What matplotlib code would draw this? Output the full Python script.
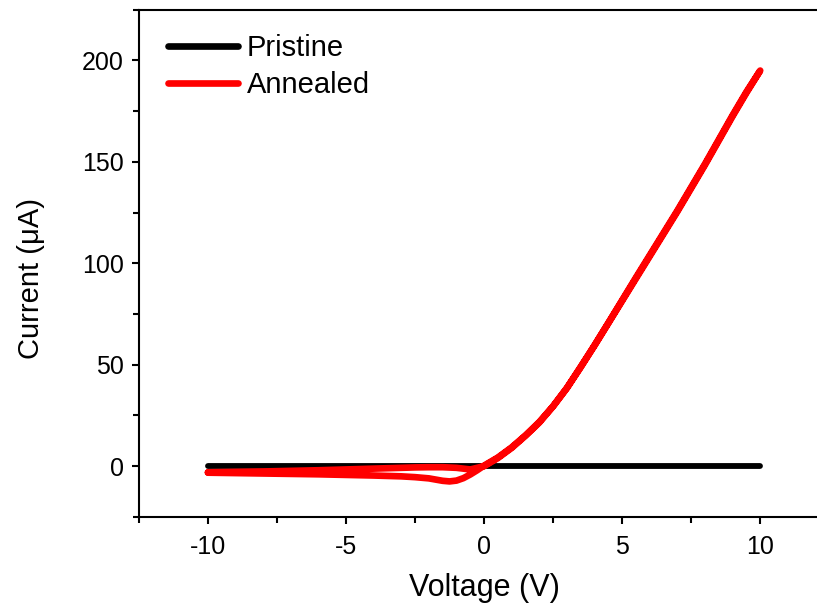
"""I-V sweep of pristine vs annealed device"""

import numpy as np
import matplotlib as mpl
mpl.use("Agg")
import matplotlib.pyplot as plt
from matplotlib.ticker import MultipleLocator

plt.rcParams['font.family'] = ['Liberation Sans', 'DejaVu Sans']

# pristine sweep (flat, current stays at zero)
v_pristine = [-10, -8, -6, -4, -2, 0, 2, 4, 6, 8, 10]
i_pristine = [0, 0, 0, 0, 0, 0, 0, 0, 0, 0, 0]

# annealed sweep, forward branch (-10 V -> 10 V)
v_fwd = [-10, -9, -8, -7, -6, -5, -4, -3, -2.5, -2, -1.75, -1.5, -1.25, -1,
         -0.75, -0.5, -0.25, 0, 0.5, 1, 1.5, 2, 2.5, 3, 3.5, 4, 4.5, 5,
         5.5, 6, 6.5, 7, 7.5, 8, 8.5, 9, 9.5, 10]
i_fwd = [-3.2, -3.4, -3.6, -3.8, -4.0, -4.3, -4.6, -5.0, -5.4, -6.0, -6.6,
         -7.2, -7.5, -7.1, -5.9, -4.1, -2.0, 0.3, 4.3, 9.3, 15.2, 21.8, 29.6,
         38.6, 48.8, 59.6, 70.6, 81.8, 93, 104, 115, 126, 137.5, 149, 161,
         173, 184.5, 195]

# annealed sweep, return branch (10 V -> -10 V)
v_bwd = [10, 9.5, 9, 8.5, 8, 7.5, 7, 6.5, 6, 5.5, 5, 4.5, 4, 3.5, 3, 2.5,
         2, 1.5, 1, 0.5, 0, -0.25, -0.5, -0.75, -1, -1.5, -2, -2.5, -3, -4,
         -5, -6, -7, -8, -9, -10]
i_bwd = [195, 184, 172.5, 160.5, 148.5, 137, 125.5, 114.5, 103.5, 92.5, 81.5,
         70.5, 59.5, 49, 38.5, 29.5, 21.5, 15, 9, 4, 0, -0.8, -1.6, -1.2,
         -0.8, -0.5, -0.5, -0.6, -0.8, -1.2, -1.6, -2.0, -2.3, -2.6, -2.8,
         -3.0]


fig = plt.figure(figsize=(8.17, 6.06), dpi=100)
ax = fig.add_axes([0.170, 0.147, 0.845, 0.837])

ax.plot(v_pristine, i_pristine, color='black', lw=4.2,
        solid_capstyle='round', label='Pristine')
v_ann = v_fwd + v_bwd
i_ann = i_fwd + i_bwd
ax.plot(v_ann, i_ann, color='#ff0000', lw=4.8,
        solid_capstyle='round', solid_joinstyle='round', label='Annealed')

ax.set_xlim(-12.5, 12.5)
ax.set_ylim(-25, 225)

ax.xaxis.set_major_locator(MultipleLocator(5))
ax.xaxis.set_minor_locator(MultipleLocator(2.5))
ax.yaxis.set_major_locator(MultipleLocator(50))
ax.yaxis.set_minor_locator(MultipleLocator(25))
ax.set_xticks([-10, -5, 0, 5, 10])
ax.set_xticklabels(['-10', '-5', '0', '5', '10'])

for s in ax.spines.values():
    s.set_linewidth(1.5)

ax.tick_params(which='major', direction='out', length=5, width=1.5,
               labelsize=18, pad=6)
ax.tick_params(which='minor', direction='out', length=4, width=1.5)
ax.tick_params(axis='x', which='major', pad=8)

ax.set_xlabel('Voltage (V)', fontsize=22, labelpad=10)
ax.set_ylabel('Current (\u03bcA)', fontsize=21)
ax.yaxis.set_label_coords(-0.136, 0.47)

leg = ax.legend(loc='upper left', bbox_to_anchor=(0.042, 0.952),
                frameon=False, fontsize=21, handlelength=2.4,
                handletextpad=0.3, labelspacing=0.3, borderpad=0,
                borderaxespad=0)
for line in leg.get_lines():
    line.set_linewidth(4.8)

fig.savefig('out.png', dpi=100)
